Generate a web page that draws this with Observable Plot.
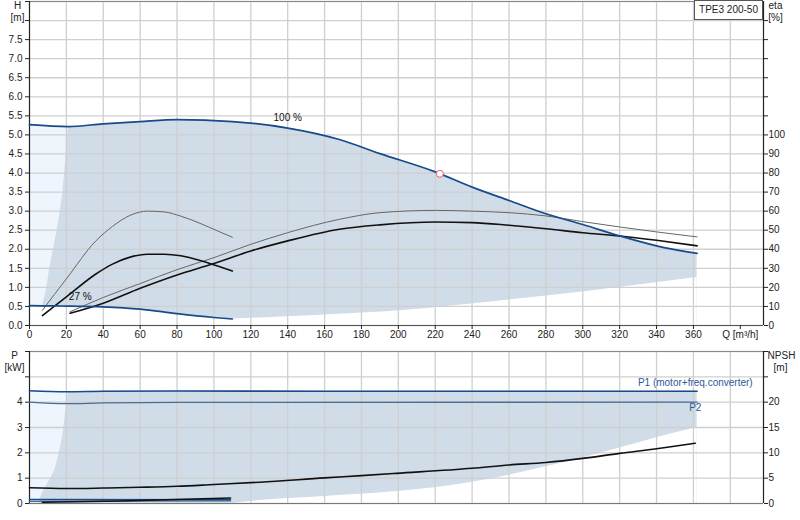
<!DOCTYPE html>
<html>
<head>
<meta charset="utf-8">
<script src="https://cdn.jsdelivr.net/npm/d3@7"></script>
<script src="https://cdn.jsdelivr.net/npm/@observablehq/plot@0.6"></script>
<style>
  body { margin: 0; background: #fff; font-family: "Liberation Sans", Arial, sans-serif; }
  #wrap { position: relative; width: 800px; height: 520px; }
  #wrap svg { display: block; }
  #title { position: absolute; z-index: 2; left: 694px; top: 0; width: 67px; height: 18px;
           border: 1px solid #555; background: #fff; font-size: 10px; line-height: 18px;
           text-align: center; color: #222; box-sizing: content-box; }
</style>
</head>
<body>
<div id="wrap"><div id="title">TPE3 200-50</div></div>
<script>
// ---------- data ----------
const Q_DOMAIN = [0, 398];
const H_DOMAIN = [0, 8.5];
const P_DOMAIN = [0, 6];
const ETA_PER_H = 20;   // eta 100 % <-> H 5 m
const NPSH_PER_P = 5;   // NPSH 5 m <-> P 1 kW

// H curve, 100 % speed
const qH100 = [0, 21, 40, 60, 80, 110, 140, 168, 190, 220, 240, 260, 280, 300, 320, 340, 362];
const hH100 = [5.27, 5.22, 5.29, 5.35, 5.40, 5.35, 5.18, 4.88, 4.51, 4.03, 3.63, 3.28, 2.93, 2.65, 2.35, 2.09, 1.89];
// H curve, 27 % speed
const qH27 = [0, 7, 20, 40, 60, 80, 100, 110];
const hH27 = [0.52, 0.515, 0.51, 0.49, 0.43, 0.31, 0.21, 0.17];
// operating-area boundaries (H panel)
const qAreaLeftH = [7, 9, 11, 13, 15, 17, 18.5, 19.7, 21];
const hAreaLeftH = [0.52, 0.9, 1.5, 2.0, 2.5, 3.1, 3.7, 4.4, 5.22];
const qAreaBottomH = [110, 140, 170, 201, 230, 260, 300, 330, 362];
const hAreaBottomH = [0.17, 0.23, 0.30, 0.385, 0.52, 0.67, 0.88, 1.06, 1.26];

// efficiency curves [%]
const qEta100 = [22, 40, 60, 80, 100, 120, 140, 168, 190, 220, 240, 260, 280, 300, 320, 340, 362];
const etaPump100 = [7.2, 14.7, 22, 29.3, 35.6, 42.6, 48.7, 55.7, 59.2, 60.4, 60, 59.2, 57.5, 54.5, 51.7, 49.1, 46.5];
const etaTotal100 = [6.4, 11.7, 19.5, 26.5, 32.5, 39.1, 44.4, 50.5, 52.8, 54.3, 54, 52.6, 50.8, 48.7, 47, 44.7, 41.8];
const qEta27 = [7, 20, 36, 45, 55, 64, 73, 82, 93, 102, 110];
const etaPump27 = [8, 24.5, 44.4, 52, 58, 60, 59.6, 57.4, 53.4, 49.6, 46.3];
const etaTotal27 = [5.2, 15, 27, 32.2, 36, 37.4, 37.4, 36.6, 34, 31.2, 28.6];

// power panel
const qP1 = [0, 20, 40, 80, 160, 240, 362];
const p1 = [4.45, 4.41, 4.43, 4.44, 4.43, 4.43, 4.43];
const qP2 = [0, 20, 40, 80, 362];
const p2 = [4.0, 3.94, 3.97, 3.99, 4.0];
const qP1low = [0, 109];
const p1low = [0.16, 0.15];
const qP2low = [0, 109];
const p2low = [0.08, 0.10];
const qNpsh = [0, 20, 40, 60, 80, 100, 125, 160, 180, 199, 240, 260, 280, 300, 320, 340, 361];
const npsh = [3.1, 2.95, 3.05, 3.2, 3.4, 3.75, 4.2, 5.05, 5.5, 5.95, 6.95, 7.6, 8.1, 8.9, 9.9, 10.8, 11.9];
const qNpshLow = [7, 49, 79, 109];
const npshLow = [0.25, 0.5, 0.8, 1.1];
const qAreaLeftP = [5, 7, 10, 13, 15.5, 17.6, 19, 19.9, 21];
const pAreaLeftP = [0, 0.4, 0.8, 1.2, 1.8, 2.5, 3.2, 3.8, 4.41];
const qAreaBottomP = [110, 125, 160, 199, 240, 260, 280, 300, 320, 340, 362];
const pAreaBottomP = [0, 0.12, 0.28, 0.47, 0.84, 1.12, 1.45, 1.8, 2.19, 2.6, 3.0];

// ticks
const qTicks = [0, 20, 40, 60, 80, 100, 120, 140, 160, 180, 200, 220, 240, 260, 280, 300, 320, 340, 360];
const qGrid = [20, 40, 60, 80, 100, 120, 140, 160, 180, 200, 220, 240, 260, 280, 300, 320, 340, 360, 380];
const qUnitTick = [380];
const hTicks = [0, 0.5, 1, 1.5, 2, 2.5, 3, 3.5, 4, 4.5, 5, 5.5, 6, 6.5, 7, 7.5, 8];
const hLabelMax = 7.5;
const etaTicks = [0, 10, 20, 30, 40, 50, 60, 70, 80, 90, 100, 110, 120, 130, 140, 150, 160];
const etaLabelMax = 100;
const pTicks = [0, 1, 2, 3, 4, 5];
const pLabelMax = 4;
const npshTicks = [0, 5, 10, 15, 20, 25];
const npshLabelMax = 20;

const curveLabels = [{q: 140, h: 5.46, text: "100 %"}, {q: 27.5, h: 0.74, text: "27 %"}];
const opPoint = [{q: 222.5, h: 3.98}];
const powerLabels = [{q: 361, p: 4.77, text: "P1 (motor+freq.converter)"}, {q: 361, p: 3.76, text: "P2"}];

// ---------- helpers ----------
const rows = (q, v) => q.map((x, i) => ({q: x, v: v[i]}));
const DARK = "#d0dce8", LIGHT = "#eef5fd", GRID = "#cfcfcf";
const BLUE = "#174b8a", BLUE2 = "#4d6c93";
const FONT = {fontFamily: "'Liberation Sans', Arial, sans-serif", fontSize: "10px", color: "#222", background: "white", overflow: "visible"};

// ---------- top panel ----------
const topPlot = Plot.plot({
  width: 800, height: 340,
  marginLeft: 29, marginRight: 37, marginTop: 1, marginBottom: 15,
  x: {domain: Q_DOMAIN},
  y: {domain: H_DOMAIN},
  style: FONT,
  marks: [
    Plot.areaY(rows(qH100, hH100), {x: "q", y1: 0, y2: "v", fill: DARK, curve: "monotone-x"}),
    Plot.areaX(rows(qAreaLeftH, hAreaLeftH), {y: "v", x1: 0, x2: "q", fill: LIGHT, curve: "monotone-y"}),
    Plot.areaY(rows(qH27, hH27), {x: "q", y1: 0, y2: "v", fill: "white", curve: "monotone-x"}),
    Plot.areaY(rows(qAreaBottomH, hAreaBottomH), {x: "q", y1: 0, y2: "v", fill: "white", curve: "monotone-x"}),
    Plot.gridX({ticks: qGrid, stroke: GRID, strokeOpacity: 1, strokeWidth: 1.3}),
    Plot.gridY({ticks: hTicks.concat([8.5]), stroke: GRID, strokeOpacity: 1, strokeWidth: 1.3}),
    Plot.ruleY([H_DOMAIN[1]], {stroke: "#888", strokeWidth: 1.2}),
    Plot.ruleY([H_DOMAIN[0]], {stroke: "#555", strokeWidth: 1.2}),
    Plot.ruleX([Q_DOMAIN[0]], {stroke: "#222", strokeWidth: 1.2}),
    Plot.ruleX([Q_DOMAIN[1]], {stroke: "#222", strokeWidth: 1.2}),
    // efficiency
    Plot.line(rows(qEta100, etaPump100), {x: "q", y: d => d.v / ETA_PER_H, stroke: "#666", strokeWidth: 1, curve: "monotone-x"}),
    Plot.line(rows(qEta100, etaTotal100), {x: "q", y: d => d.v / ETA_PER_H, stroke: "#111", strokeWidth: 1.6, curve: "monotone-x"}),
    Plot.line(rows(qEta27, etaPump27), {x: "q", y: d => d.v / ETA_PER_H, stroke: "#666", strokeWidth: 1, curve: "monotone-x"}),
    Plot.line(rows(qEta27, etaTotal27), {x: "q", y: d => d.v / ETA_PER_H, stroke: "#111", strokeWidth: 1.6, curve: "monotone-x"}),
    // H curves
    Plot.line(rows(qH100, hH100), {x: "q", y: "v", stroke: BLUE, strokeWidth: 1.7, curve: "monotone-x"}),
    Plot.line(rows(qH27, hH27), {x: "q", y: "v", stroke: BLUE, strokeWidth: 1.7, curve: "monotone-x"}),
    Plot.dot(opPoint, {x: "q", y: "h", r: 3.5, stroke: "#f06060", fill: "white", strokeWidth: 1}),
    Plot.text(curveLabels, {x: "q", y: "h", text: "text", fill: "#111", fontSize: 10}),
    // axes
    Plot.axisX({ticks: qTicks, tickSize: 4, tickPadding: 1, label: null, fontSize: 10, fill: "#222", tickFormat: d => String(d)}),
    Plot.axisX({ticks: qUnitTick, tickSize: 4, tickPadding: 1, label: null, fontSize: 10, fill: "#222", tickFormat: () => "Q [m³/h]", dx: 10}),
    Plot.axisY({ticks: hTicks.concat([8.5]), tickSize: 4, tickPadding: 3, label: null, fontSize: 10, fill: "#222",
      tickFormat: d => d <= hLabelMax ? d.toFixed(1) : ""}),
    Plot.axisY({anchor: "right", ticks: etaTicks.map(e => e / ETA_PER_H), tickSize: 4, tickPadding: 1, label: null, fontSize: 10, fill: "#222",
      tickFormat: d => Math.round(d * ETA_PER_H) <= etaLabelMax ? String(Math.round(d * ETA_PER_H)) : ""}),
    Plot.text(["H"], {frameAnchor: "top-left", dx: -12, dy: 4, text: d => d, textAnchor: "middle", lineAnchor: "middle", fontSize: 10, fill: "#222"}),
    Plot.text(["[m]"], {frameAnchor: "top-left", dx: -12, dy: 16, text: d => d, textAnchor: "middle", lineAnchor: "middle", fontSize: 10, fill: "#222"}),
    Plot.text(["eta"], {frameAnchor: "top-right", dx: 12, dy: 4, text: d => d, textAnchor: "middle", lineAnchor: "middle", fontSize: 10, fill: "#222"}),
    Plot.text(["[%]"], {frameAnchor: "top-right", dx: 12, dy: 16, text: d => d, textAnchor: "middle", lineAnchor: "middle", fontSize: 10, fill: "#222"})
  ]
});

// ---------- bottom panel ----------
const botPlot = Plot.plot({
  width: 800, height: 180,
  marginLeft: 29, marginRight: 37, marginTop: 11, marginBottom: 17,
  x: {domain: Q_DOMAIN, axis: null},
  y: {domain: P_DOMAIN},
  style: FONT,
  marks: [
    Plot.areaY(rows(qP1, p1), {x: "q", y1: 0, y2: "v", fill: DARK, curve: "monotone-x"}),
    Plot.areaX(rows(qAreaLeftP, pAreaLeftP), {y: "v", x1: 0, x2: "q", fill: LIGHT, curve: "monotone-y"}),
    Plot.areaY(rows(qAreaBottomP, pAreaBottomP), {x: "q", y1: 0, y2: "v", fill: "white", curve: "monotone-x"}),
    Plot.gridX({ticks: qGrid, stroke: GRID, strokeOpacity: 1, strokeWidth: 1.3}),
    Plot.gridY({ticks: pTicks.concat([6]), stroke: GRID, strokeOpacity: 1, strokeWidth: 1.3}),
    Plot.ruleY([P_DOMAIN[1]], {stroke: "#888", strokeWidth: 1.2}),
    Plot.ruleY([P_DOMAIN[0]], {stroke: "#777", strokeWidth: 1.2}),
    Plot.ruleX([Q_DOMAIN[0]], {stroke: "#222", strokeWidth: 1.2}),
    Plot.ruleX([Q_DOMAIN[1]], {stroke: "#222", strokeWidth: 1.2}),
    Plot.line(rows(qP1, p1), {x: "q", y: "v", stroke: BLUE, strokeWidth: 1.6, curve: "monotone-x"}),
    Plot.line(rows(qP2, p2), {x: "q", y: "v", stroke: BLUE2, strokeWidth: 1.3, curve: "monotone-x"}),
    Plot.line(rows(qP2low, p2low), {x: "q", y: "v", stroke: BLUE2, strokeWidth: 1.3}),
    Plot.line(rows(qP1low, p1low), {x: "q", y: "v", stroke: BLUE, strokeWidth: 1.5}),
    Plot.line(rows(qNpsh, npsh), {x: "q", y: d => d.v / NPSH_PER_P, stroke: "#111", strokeWidth: 1.6, curve: "monotone-x"}),
    Plot.line(rows(qNpshLow, npshLow), {x: "q", y: d => d.v / NPSH_PER_P, stroke: "#111", strokeWidth: 1.6, curve: "monotone-x"}),
    Plot.text(powerLabels, {x: "q", y: "p", text: "text", fill: "#2a5a9a", fontSize: 10}),
    Plot.axisY({ticks: pTicks.concat([6]), tickSize: 4, tickPadding: 3, label: null, fontSize: 10, fill: "#222",
      tickFormat: d => d <= pLabelMax ? String(d) : ""}),
    Plot.axisY({anchor: "right", ticks: npshTicks.concat([30]).map(n => n / NPSH_PER_P), tickSize: 4, tickPadding: 1, label: null, fontSize: 10, fill: "#222",
      tickFormat: d => Math.round(d * NPSH_PER_P) <= npshLabelMax ? String(Math.round(d * NPSH_PER_P)) : ""}),
    Plot.text(["P"], {frameAnchor: "top-left", dx: -15, dy: 4, text: d => d, textAnchor: "middle", lineAnchor: "middle", fontSize: 10, fill: "#222"}),
    Plot.text(["[kW]"], {frameAnchor: "top-left", dx: -15, dy: 16, text: d => d, textAnchor: "middle", lineAnchor: "middle", fontSize: 10, fill: "#222"}),
    Plot.text(["NPSH"], {frameAnchor: "top-right", dx: 18, dy: 4, text: d => d, textAnchor: "middle", lineAnchor: "middle", fontSize: 10, fill: "#222"}),
    Plot.text(["[m]"], {frameAnchor: "top-right", dx: 17, dy: 16, text: d => d, textAnchor: "middle", lineAnchor: "middle", fontSize: 10, fill: "#222"})
  ]
});

const wrap = document.getElementById("wrap");
wrap.appendChild(topPlot);
wrap.appendChild(botPlot);
</script>
</body>
</html>
